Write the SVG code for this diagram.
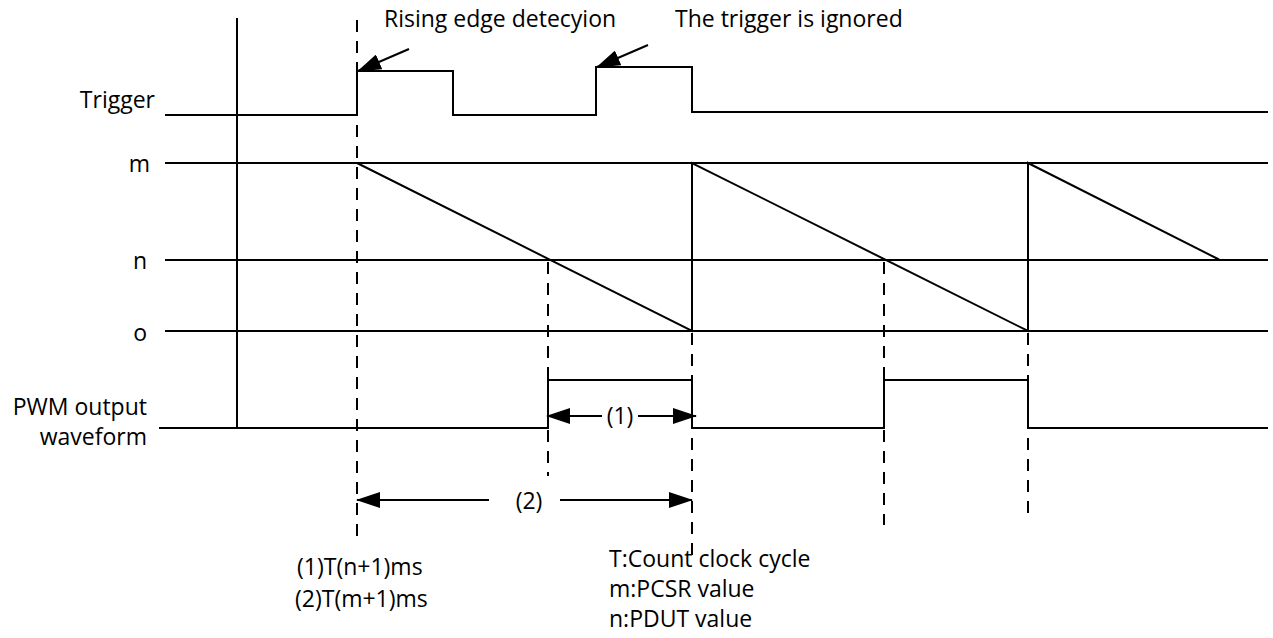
<svg xmlns="http://www.w3.org/2000/svg" width="1273" height="638" viewBox="0 0 1273 638">
  <style>
    .ln { stroke: #000; stroke-width: 2; fill: none; }
    .dash { stroke: #000; stroke-width: 2; fill: none; stroke-dasharray: 12 9; }
    .t { font-family: "Open Sans", "Liberation Sans", sans-serif; font-size: 23px; fill: #000; }
    .end { text-anchor: end; }
    .mid { text-anchor: middle; }
  </style>
  <defs>
    <marker id="ah" markerUnits="userSpaceOnUse" viewBox="0 0 24 16" markerWidth="24" markerHeight="16" refX="23" refY="8" orient="auto-start-reverse">
      <path d="M0,0 L24,8 L0,16 z" fill="#000"/>
    </marker>
  </defs>
  <rect width="1273" height="638" fill="#fff"/>

  <g id="axis-labels">
    <text class="t end" x="155" y="108">Trigger</text>
    <text class="t end" x="150" y="172">m</text>
    <text class="t end" x="147" y="269">n</text>
    <text class="t end" x="147" y="341">o</text>
    <text class="t end" x="147" y="415">PWM output<tspan x="147" dy="30">waveform</tspan></text>
  </g>

  <g id="grid">
    <line class="ln" x1="237" y1="18" x2="237" y2="428"/>
    <line class="ln" x1="165" y1="163" x2="1268" y2="163"/>
    <line class="ln" x1="165" y1="260" x2="1268" y2="260"/>
    <line class="ln" x1="165" y1="331" x2="1268" y2="331"/>
  </g>

  <g id="trigger-wave">
    <polyline class="ln" points="165,115 357,115 357,71 453,71 453,115 596,115 596,67 692,67 692,112 1268,112"/>
  </g>

  <g id="counter-wave">
    <polyline class="ln" points="357,163 692,331 692,163 1028,331 1028,163 1219,259.5"/>
  </g>

  <g id="pwm-wave">
    <polyline class="ln" points="159,428 548,428 548,380 692,380 692,428 884,428 884,380 1028,380 1028,428 1268,428"/>
  </g>

  <g id="guides">
    <line class="dash" x1="357" y1="20" x2="357" y2="538"/>
    <line class="dash" x1="548" y1="262" x2="548" y2="476"/>
    <line class="dash" x1="692" y1="333" x2="692" y2="557"/>
    <line class="dash" x1="884" y1="262" x2="884" y2="525"/>
    <line class="dash" x1="1028" y1="333" x2="1028" y2="514"/>
  </g>

  <g id="connectors">
    <line class="ln" x1="409" y1="49" x2="358" y2="71" marker-end="url(#ah)"/>
    <line class="ln" x1="648" y1="45" x2="597" y2="67" marker-end="url(#ah)"/>
    <line class="ln" x1="602" y1="416" x2="547" y2="416" marker-end="url(#ah)"/>
    <line class="ln" x1="638" y1="416" x2="696" y2="416" marker-end="url(#ah)"/>
    <line class="ln" x1="489" y1="500" x2="357" y2="500" marker-end="url(#ah)"/>
    <line class="ln" x1="560" y1="500" x2="692" y2="500" marker-end="url(#ah)"/>
  </g>

  <g id="annotations">
    <text class="t" x="384" y="27">Rising edge detecyion</text>
    <text class="t" x="675" y="27">The trigger is ignored</text>
    <text class="t mid" x="620" y="424">(1)</text>
    <text class="t mid" x="529" y="509">(2)</text>
    <text class="t" x="297" y="575">(1)T(n+1)ms</text>
    <text class="t" x="295" y="607">(2)T(m+1)ms</text>
    <text class="t" x="609" y="567">T:Count clock cycle<tspan x="609" dy="30">m:PCSR value</tspan><tspan x="609" dy="30">n:PDUT value</tspan></text>
  </g>
</svg>
